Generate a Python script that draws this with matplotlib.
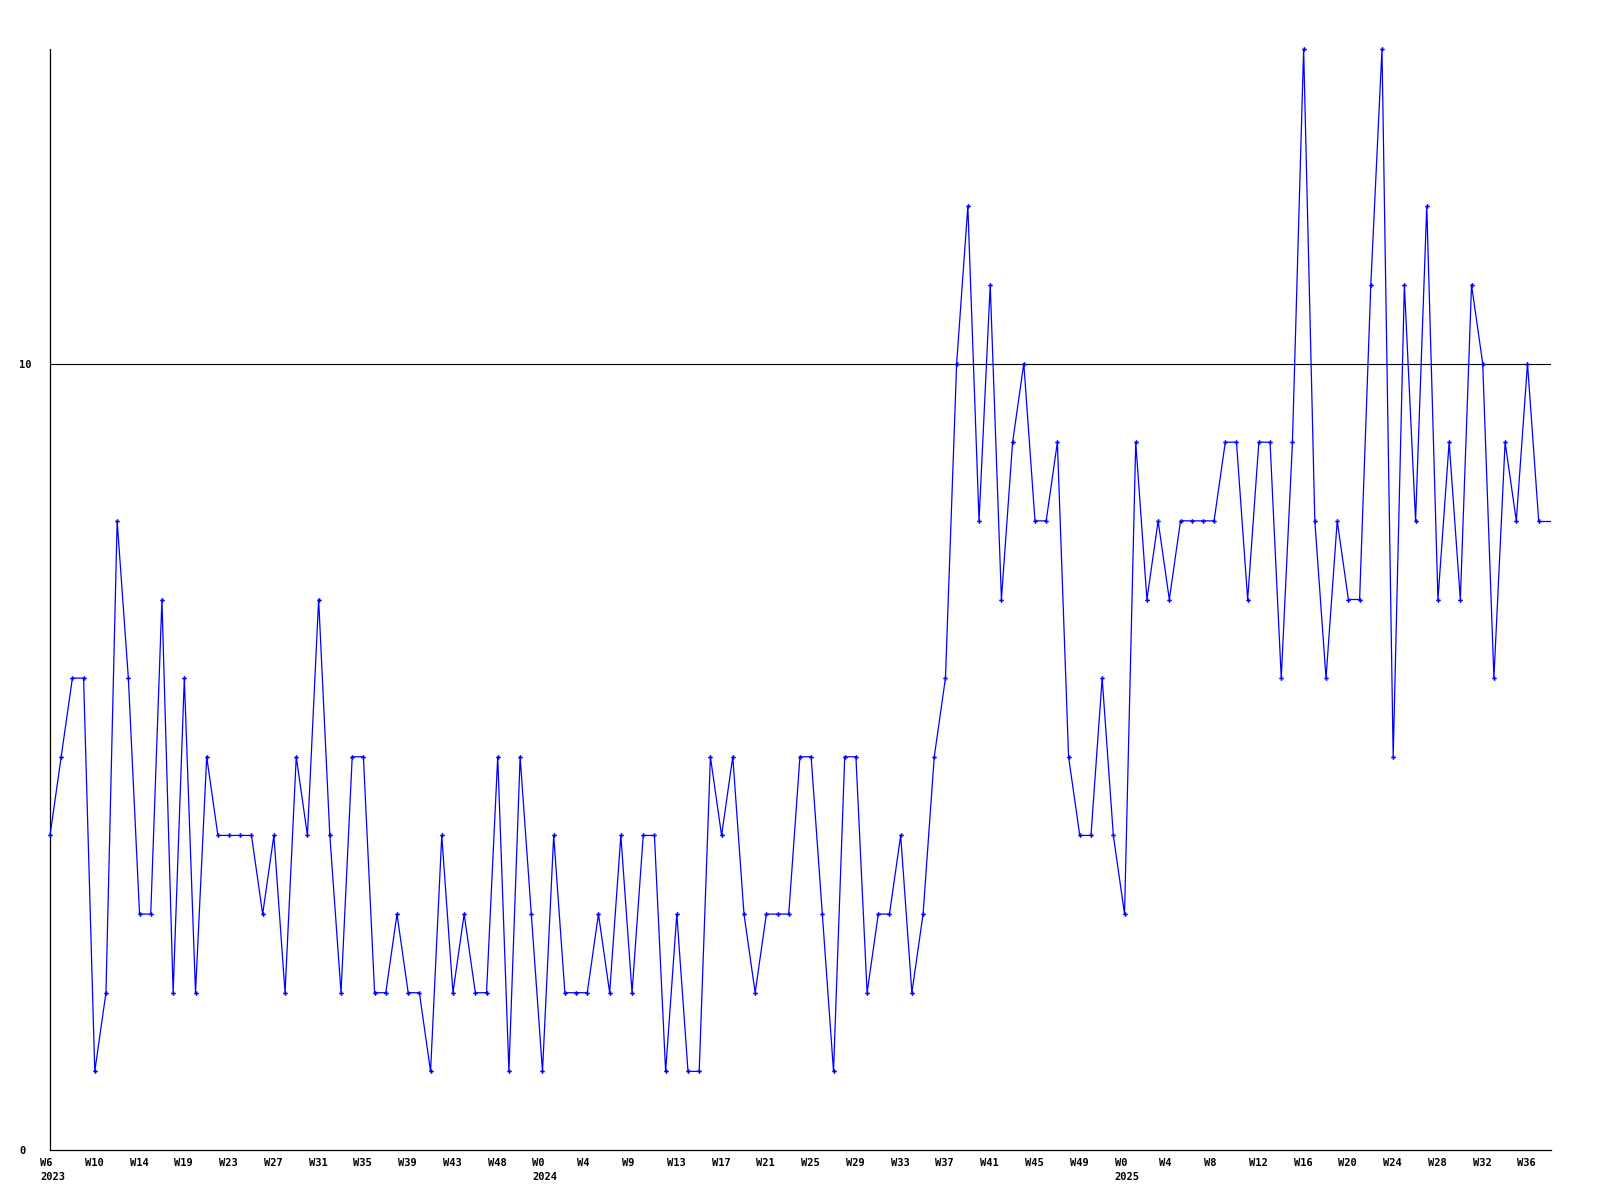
import matplotlib
matplotlib.use("Agg")
import matplotlib.pyplot as plt
import matplotlib.transforms as mtransforms
import numpy as np

# weekly counts, W6 2023 .. W36 2025
values = [4, 5, 6, 6, 1, 2, 8, 6, 3, 3,
          7, 2, 6, 2, 5, 4, 4, 4, 4, 3,
          4, 2, 5, 4, 7, 4, 2, 5, 5, 2,
          2, 3, 2, 2, 1, 4, 2, 3, 2, 2,
          5, 1, 5, 3, 1, 4, 2, 2, 2, 3,
          2, 4, 2, 4, 4, 1, 3, 1, 1, 5,
          4, 5, 3, 2, 3, 3, 3, 5, 5, 3,
          1, 5, 5, 2, 3, 3, 4, 2, 3, 5,
          6, 10, 12, 8, 11, 7, 9, 10, 8, 8,
          9, 5, 4, 4, 6, 4, 3, 9, 7, 8,
          7, 8, 8, 8, 8, 9, 9, 7, 9, 9,
          6, 9, 14, 8, 6, 8, 7, 7, 11, 14,
          5, 11, 8, 12, 7, 9, 7, 11, 10, 6,
          9, 8, 10, 8]

week_labels = ["W6", "W10", "W14", "W19", "W23", "W27", "W31", "W35", "W39",
               "W43", "W48", "W0", "W4", "W9", "W13", "W17", "W21", "W25",
               "W29", "W33", "W37", "W41", "W45", "W49", "W0", "W4", "W8",
               "W12", "W16", "W20", "W24", "W28", "W32", "W36"]
year_labels = {0: "2023", 11: "2024", 24: "2025"}

y_ticks = [0, 10]
ref_level = 10

fig = plt.figure(figsize=(16, 12), dpi=100, facecolor="white")
ax = fig.add_axes([50 / 1600, 50 / 1200, 1501 / 1600, 1101 / 1200])

x = np.arange(len(values))
x_end = 134.1

ax.axhline(ref_level, color="black", linewidth=0.8, zorder=1)
ax.plot(x, values, color="#0000ff", linewidth=0.9, marker="P",
        markersize=3.3, markeredgewidth=0, zorder=3, clip_on=False)
# the line runs on to the right edge at the last value
ax.plot([x[-1], x_end], [values[-1], values[-1]], color="#0000ff",
        linewidth=0.9, zorder=3)

ax.set_xlim(0, x_end)
ax.set_ylim(0, 14)

for side in ("top", "right"):
    ax.spines[side].set_visible(False)
for side in ("left", "bottom"):
    ax.spines[side].set_linewidth(0.9)
    ax.spines[side].set_color("black")

font = dict(family="DejaVu Sans Mono", weight="bold", size=7.5)

ticks = x[::4][:len(week_labels)]
labels = []
for k, w in enumerate(week_labels):
    labels.append(w + "\n" + year_labels[k] if k in year_labels else w)
ax.set_xticks(ticks)
ax.set_xticklabels(labels, ha="left", va="top", linespacing=1.45, **font)
ax.tick_params(axis="x", length=0, pad=6)
shift = mtransforms.ScaledTranslation(-10 / 100, 0, fig.dpi_scale_trans)
for lab in ax.get_xticklabels():
    lab.set_transform(lab.get_transform() + shift)

ax.set_yticks(y_ticks)
ax.set_yticklabels([str(v) for v in y_ticks], ha="left", **font)
ax.tick_params(axis="y", length=0, pad=22)

fig.savefig("out.png", dpi=100, facecolor="white")
